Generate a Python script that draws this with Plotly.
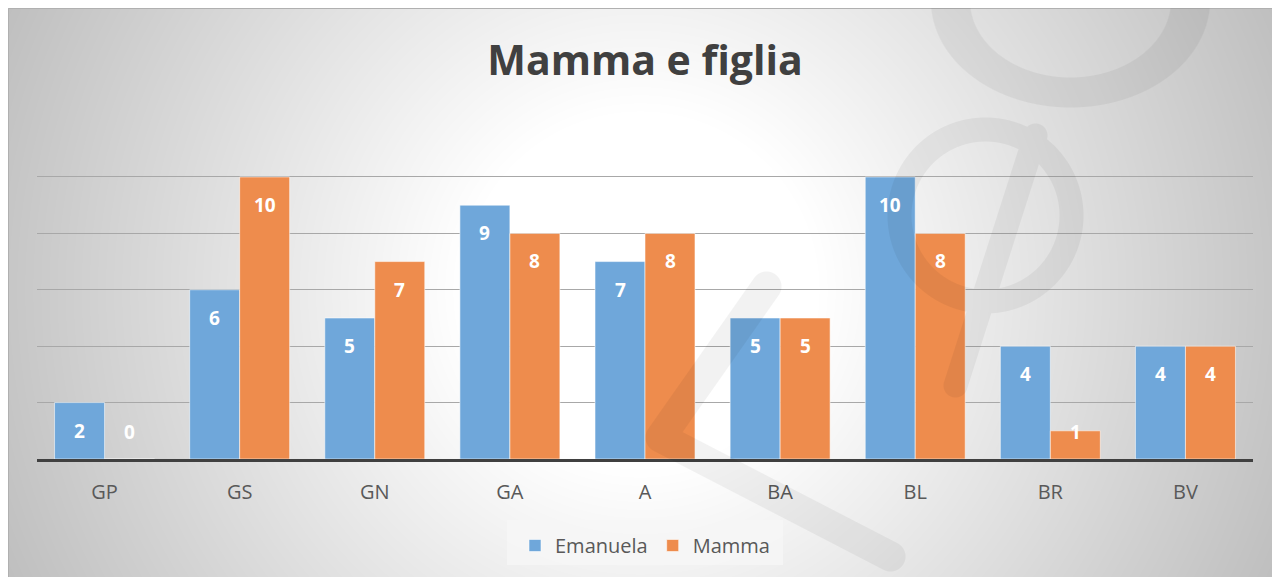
import base64
import struct
import zlib
import numpy as np
import plotly.graph_objects as go

# ---------------- data ----------------
categories = ["GP", "GS", "GN", "GA", "A", "BA", "BL", "BR", "BV"]
emanuela = [2, 6, 5, 9, 7, 5, 10, 4, 4]
mamma = [0, 10, 7, 8, 8, 5, 8, 1, 4]
series_names = ["Emanuela", "Mamma"]
title_text = "Mamma e figlia"

# ---------------- layout geometry (figure coordinates) ----------------
W, H = 1280, 577
ML, MR, MT, MB = 29, 35, 112, 126
PW, PH = W - ML - MR, H - MT - MB
YMAX = 12.02


def px_x(px):
    return (px - ML) / PW


def px_y(py):
    return (H - MB - py) / PH


BLUE = "#6FA7DA"
ORANGE = "#EE8C4D"
BARGAP = 0.26
FONT = "Open Sans"


def png_uri(arr):
    h, w = arr.shape[:2]
    ctype = 0 if arr.ndim == 2 else 6
    raw = b"".join(b"\x00" + arr[i].tobytes() for i in range(h))

    def chunk(tag, data):
        c = struct.pack(">I", len(data)) + tag + data
        return c + struct.pack(">I", zlib.crc32(tag + data) & 0xFFFFFFFF)

    png = b"\x89PNG\r\n\x1a\n"
    png += chunk(b"IHDR", struct.pack(">IIBBBBB", w, h, 8, ctype, 0, 0, 0))
    png += chunk(b"IDAT", zlib.compress(raw, 9))
    png += chunk(b"IEND", b"")
    return "data:image/png;base64," + base64.b64encode(png).decode()


# background: radial gradient
yy, xx = np.mgrid[0:H, 0:W].astype(float)
cx, cy, R = 632.0, 282.0, 700.0
t = np.sqrt((xx - cx) ** 2 + (yy - cy) ** 2) / R
t = np.clip((t - 0.25) / 0.75, 0, 1)
bg = (255 - t * (255 - 190)).round().astype(np.uint8)
bg_uri = png_uri(bg)

# faint watermark overlay
off = 8.0


def seg_mask(a, b, w):
    ax, ay = a[0] - off, a[1] - off
    bx, by = b[0] - off, b[1] - off
    dx, dy = bx - ax, by - ay
    tt = np.clip(((xx - ax) * dx + (yy - ay) * dy) / (dx * dx + dy * dy), 0, 1)
    d = np.sqrt((xx - ax - tt * dx) ** 2 + (yy - ay - tt * dy) ** 2)
    return np.clip(w / 2 - d + 0.5, 0, 1)


def ring_mask(c, r, w):
    d = np.abs(np.sqrt((xx - c[0] + off) ** 2 + (yy - c[1] + off) ** 2) - r)
    return np.clip(w / 2 - d + 0.5, 0, 1)


def half_ellipse_mask(c, rx, ry, w):
    ex, ey = c[0] - off, c[1] - off
    q = np.sqrt(((xx - ex) / rx) ** 2 + ((yy - ey) / ry) ** 2)
    d = np.abs(q - 1) * min(rx, ry)
    m = np.clip(w / 2 - d + 0.5, 0, 1)
    return m * (yy >= ey)


mask = np.zeros((H, W))
for m in [
    seg_mask((766, 286), (660, 437), 30),
    seg_mask((660, 437), (890, 556), 30),
    ring_mask((985, 215), 86, 24),
    seg_mask((1035, 135), (955, 385), 24),
    half_ellipse_mask((1070, 0), 120, 92, 30),
]:
    mask = np.maximum(mask, m)
wm = np.zeros((H, W, 4), dtype=np.uint8)
wm[..., 3] = (mask * 0.05 * 255).round().astype(np.uint8)
wm_uri = png_uri(wm)

fig = go.Figure()
for name, vals, col in [(series_names[0], emanuela, BLUE), (series_names[1], mamma, ORANGE)]:
    fig.add_trace(go.Bar(
        x=categories, y=vals, name=name,
        marker=dict(color=col, line=dict(color="rgba(255,255,255,0.55)", width=1)),
        hoverinfo="x+y+name",
    ))

# data labels (inside end, white bold)
offset = (1 - BARGAP) / 4
annotations = []
for vals, sign in [(emanuela, -1), (mamma, 1)]:
    for i, v in enumerate(vals):
        annotations.append(dict(
            x=i + sign * offset, y=max(v, 1.95), xref="x", yref="y",
            text=str(v), showarrow=False, yshift=-28,
            font=dict(family=FONT, size=19, color="white", weight=700),
        ))

fig.update_layout(
    width=W, height=H,
    margin=dict(l=ML, r=MR, t=MT, b=MB, pad=0),
    paper_bgcolor="white",
    plot_bgcolor="rgba(0,0,0,0)",
    barmode="group", bargap=BARGAP, bargroupgap=0,
    title=dict(text=f"<b>{title_text}</b>", x=637 / W, xanchor="center",
               xref="container", y=1 - 53 / H, yanchor="middle",
               font=dict(family=FONT, size=41, color="#404040")),
    font=dict(family=FONT, color="#595959"),
    xaxis=dict(showline=True, linecolor="#404040", linewidth=3, ticks="outside",
               ticklen=13, tickcolor="rgba(0,0,0,0)", showgrid=False,
               tickfont=dict(family=FONT, size=20, color="#595959")),
    yaxis=dict(range=[0, YMAX], dtick=2, showticklabels=False, showgrid=True,
               gridcolor="#a8a8a8", gridwidth=1, zeroline=False, showline=False),
    showlegend=True,
    legend=dict(orientation="h", x=0.5, xanchor="center", y=px_y(518), yanchor="top",
                bgcolor="rgba(0,0,0,0)", borderwidth=0,
                font=dict(family=FONT, size=20, color="#595959"),
                itemwidth=30, traceorder="normal"),
    annotations=annotations,
    images=[
        dict(source=bg_uri, xref="paper", yref="paper", x=px_x(0), y=px_y(0),
             sizex=W / PW, sizey=H / PH, xanchor="left", yanchor="top",
             sizing="stretch", layer="below"),
        dict(source=wm_uri, xref="paper", yref="paper", x=px_x(0), y=px_y(0),
             sizex=W / PW, sizey=H / PH, xanchor="left", yanchor="top",
             sizing="stretch", layer="above"),
    ],
    shapes=[
        dict(type="rect", xref="paper", yref="paper", x0=px_x(0.5), y0=px_y(H - 0.5),
             x1=px_x(W - 0.5), y1=px_y(0.5), line=dict(color="#b0b0b0", width=1),
             fillcolor="rgba(0,0,0,0)", layer="below"),
        dict(type="rect", xref="paper", yref="paper", x0=px_x(499), y0=px_y(557),
             x1=px_x(775), y1=px_y(512), line=dict(width=0),
             fillcolor="rgba(246,246,246,0.8)", layer="below"),
    ],
)

fig.write_html("out.html")
